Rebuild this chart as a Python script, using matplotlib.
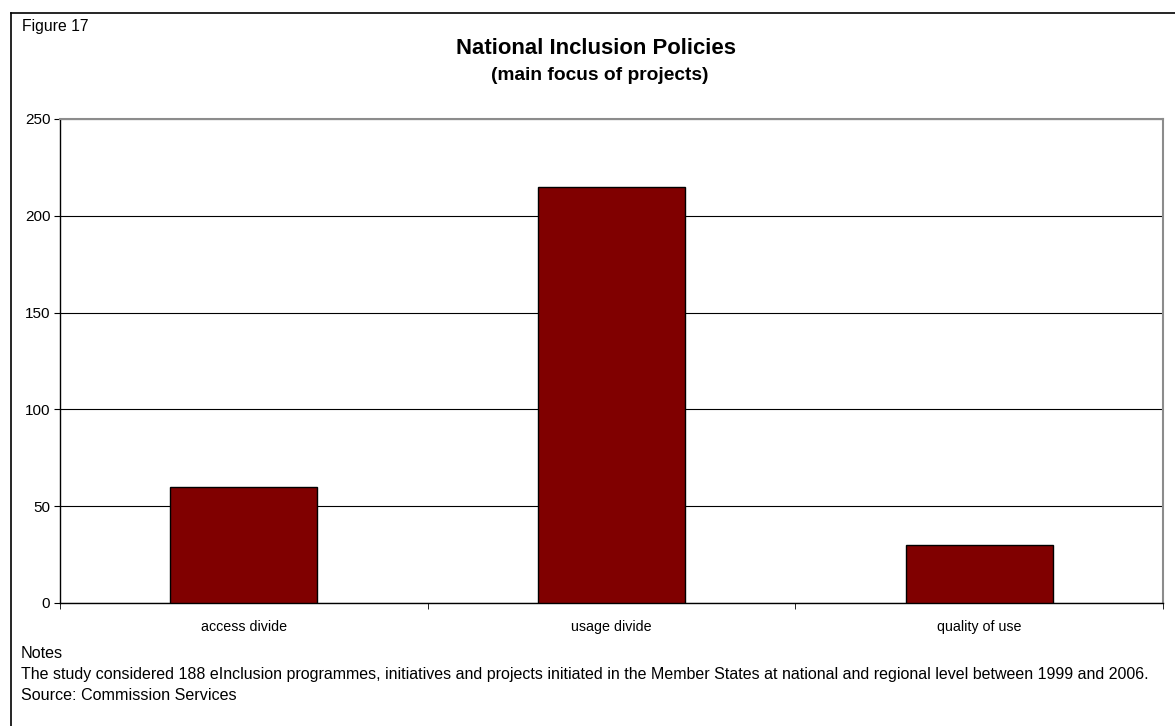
import matplotlib.pyplot as plt
from matplotlib.lines import Line2D

plt.rcParams['font.family'] = ['Liberation Sans', 'DejaVu Sans']

categories = ["access divide", "usage divide", "quality of use"]
projects = [60, 215, 30]
y_ticks = [0, 50, 100, 150, 200, 250]

W, H = 1175, 726
fig = plt.figure(figsize=(W / 100, H / 100), dpi=100)

# plot area in pixel coords of the reference
left, right, top, bottom = 60, 1163, 119, 603
ax = fig.add_axes([left / W, 1 - bottom / H, (right - left) / W, (bottom - top) / H])

x = list(range(len(categories)))
ax.bar(x, projects, width=0.4, color="#800000", edgecolor="black", linewidth=1, zorder=3)

ax.set_xlim(-0.5, len(categories) - 0.5)
ax.set_ylim(0, 250)
ax.set_yticks(y_ticks)
ax.set_xticks(x)
ax.set_xticklabels(categories, fontsize=10.3)
ax.set_xticks([i - 0.5 for i in range(len(categories) + 1)], minor=True)
ax.tick_params(axis="x", which="major", length=0, pad=12)
ax.tick_params(axis="x", which="minor", length=4, direction="out", color="black")
ax.tick_params(axis="y", length=4, direction="out", labelsize=11, pad=3)

ax.yaxis.grid(True, color="black", linewidth=0.8, zorder=0)
ax.set_axisbelow(True)
for s in ["left", "bottom"]:
    ax.spines[s].set_color("black")
    ax.spines[s].set_linewidth(1.0)
for s in ["top", "right"]:
    ax.spines[s].set_color("#8c8c8c")
    ax.spines[s].set_linewidth(1.5)

# titles and notes
fig.text(22 / W, 1 - 26 / H, "Figure 17", fontsize=11.3, va="center", ha="left")
fig.text(596 / W, 1 - 49 / H, "National Inclusion Policies", fontsize=15.9,
         fontweight="bold", ha="center", va="center")
fig.text(600 / W, 1 - 76 / H, "(main focus of projects)", fontsize=13.8,
         fontweight="bold", ha="center", va="center")
fig.text(21 / W, 1 - 653 / H, "Notes", fontsize=11.6, va="center", ha="left")
fig.text(21 / W, 1 - 675 / H,
         "The study considered 188 eInclusion programmes, initiatives and projects initiated in the "
         "Member States at national and regional level between 1999 and 2006.",
         fontsize=11.55, va="center", ha="left")
fig.text(21 / W, 1 - 696 / H, "Source: Commission Services", fontsize=11.6, va="center", ha="left")

# outer frame (open on right and bottom)
fig.add_artist(Line2D([11 / W, 11 / W], [0, 1 - 13 / H], transform=fig.transFigure,
                      color="black", linewidth=1.2))
fig.add_artist(Line2D([11 / W, 1], [1 - 13 / H, 1 - 13 / H], transform=fig.transFigure,
                      color="black", linewidth=1.2))

fig.savefig("out.png", dpi=100)
